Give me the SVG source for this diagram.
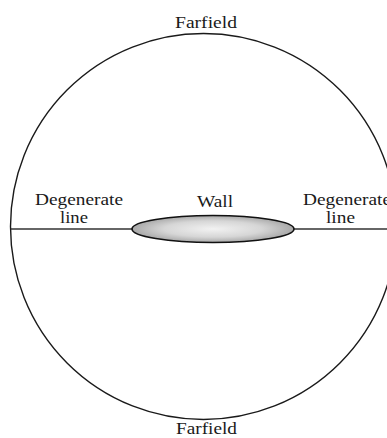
<svg xmlns="http://www.w3.org/2000/svg" width="387" height="438" viewBox="0 0 387 438">
<style>
text{font-family:"Liberation Serif","Times New Roman",serif;font-size:16.5px;fill:#1a1a1a}
.ln{stroke:#333;stroke-width:1.5;fill:none}
</style>
<defs>
<radialGradient id="wg" cx="0.5" cy="0.5" r="0.5">
<stop offset="0" stop-color="#f2f2f2"/>
<stop offset="0.6" stop-color="#d6d6d6"/>
<stop offset="1" stop-color="#a8a8a8"/>
</radialGradient>
</defs>
<rect width="387" height="438" fill="#fff"/>
<g id="farfield">
<circle cx="203.5" cy="226.5" r="193" fill="none" stroke="#1a1a1a" stroke-width="1.4"/>
<text x="175" y="28" textLength="62" lengthAdjust="spacingAndGlyphs">Farfield</text>
<text x="176" y="434" textLength="61" lengthAdjust="spacingAndGlyphs">Farfield</text>
</g>
<g id="connectors">
<line class="ln" x1="11" y1="229" x2="133" y2="229"/>
<line class="ln" x1="293" y1="229" x2="387" y2="229"/>
</g>
<g id="wall">
<ellipse cx="213" cy="229" rx="81" ry="13.5" fill="url(#wg)" stroke="#111" stroke-width="1.6"/>
<text x="197" y="207" textLength="36" lengthAdjust="spacingAndGlyphs">Wall</text>
</g>
<g id="deg-left">
<text x="35" y="205" textLength="88" lengthAdjust="spacingAndGlyphs">Degenerate</text>
<text x="60" y="223" textLength="28" lengthAdjust="spacingAndGlyphs">line</text>
</g>
<g id="deg-right">
<text x="303" y="205" textLength="88" lengthAdjust="spacingAndGlyphs">Degenerate</text>
<text x="326" y="223" textLength="29" lengthAdjust="spacingAndGlyphs">line</text>
</g>
</svg>
